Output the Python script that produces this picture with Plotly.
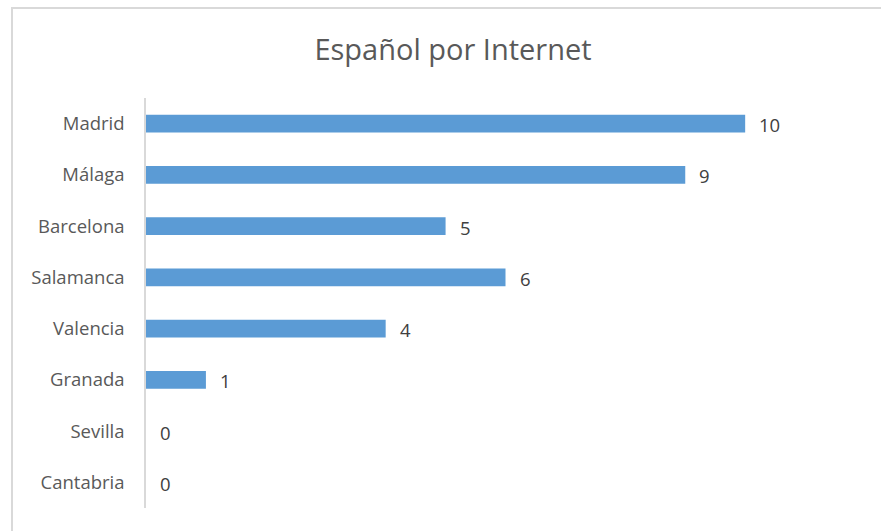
import plotly.graph_objects as go

# Respuestas por ciudad
cities = ["Madrid", "Málaga", "Barcelona", "Salamanca", "Valencia", "Granada", "Sevilla", "Cantabria"]
counts = [10, 9, 5, 6, 4, 1, 0, 0]

BAR_COLOR = "#5b9bd5"
TEXT_GRAY = "#595959"
LABEL_GRAY = "#404040"
BORDER_GRAY = "#d9d9d9"
FONT = "Open Sans, Noto Sans, sans-serif"

W, H = 881, 531
ML, MR, MT, MB = 146, 16, 98, 23
plot_w = W - ML - MR
plot_h = H - MT - MB

fig = go.Figure(
    go.Bar(
        y=cities,
        x=counts,
        orientation="h",
        marker=dict(color=BAR_COLOR, line=dict(width=0)),
        hoverinfo="skip",
    )
)

# Etiquetas de valor a la derecha de cada barra
for city, n in zip(cities, counts):
    fig.add_annotation(
        x=n, y=city, xref="x", yref="y",
        text=str(n), showarrow=False,
        xanchor="left", yanchor="middle", xshift=12, yshift=-1,
        font=dict(family=FONT, size=18.5, color=LABEL_GRAY),
    )

# Marco del gráfico (izquierda y arriba visibles)
fig.add_shape(
    type="rect", xref="paper", yref="paper",
    x0=(12 - ML) / plot_w, x1=(W + 20 - ML) / plot_w,
    y0=-(MB + 20) / plot_h, y1=1 + (MT - 8) / plot_h,
    line=dict(color=BORDER_GRAY, width=2), layer="below",
)

fig.update_layout(
    width=W, height=H,
    margin=dict(l=ML, r=MR, t=MT, b=MB),
    paper_bgcolor="white", plot_bgcolor="white",
    bargap=0.65,
    showlegend=False,
    title=dict(
        text="Español por Internet",
        x=453 / W, xanchor="center", xref="container",
        y=1 - 50 / H, yanchor="middle",
        font=dict(family=FONT, size=29, color=TEXT_GRAY),
    ),
    xaxis=dict(
        range=[0, 12], showgrid=False, zeroline=False,
        showticklabels=False, showline=False, fixedrange=True,
    ),
    yaxis=dict(
        autorange="reversed", showgrid=False, zeroline=False,
        showline=True, linecolor=BORDER_GRAY, linewidth=1.5,
        ticks="", ticklabelstandoff=16,
        tickfont=dict(family=FONT, size=18.5, color=TEXT_GRAY),
    ),
)

fig.write_html("out.html")
